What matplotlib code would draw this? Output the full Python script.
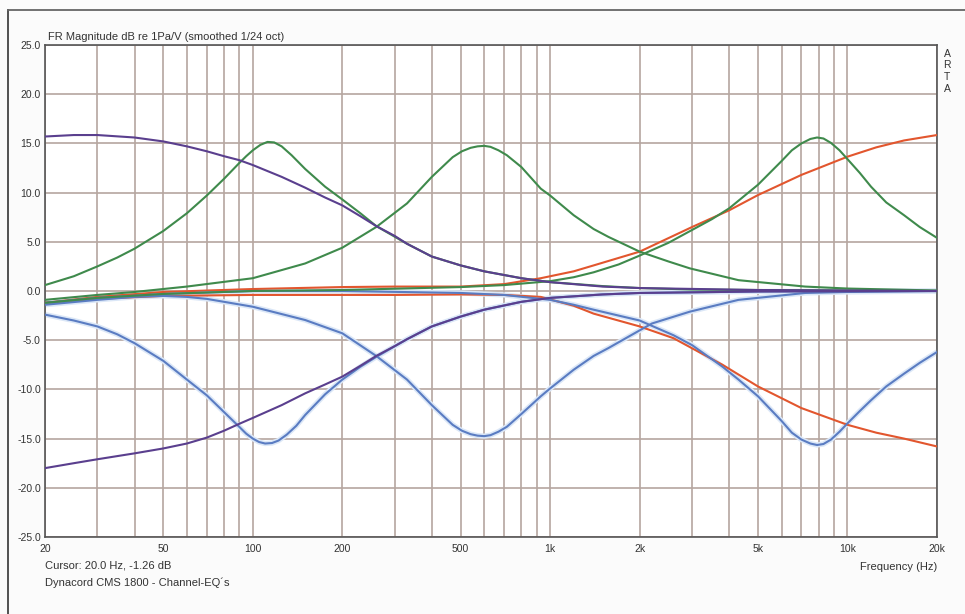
"""ARTA style frequency response plot of the Dynacord CMS 1800 channel EQ."""

import matplotlib

matplotlib.use("Agg")
import matplotlib.pyplot as plt
from matplotlib.lines import Line2D

# --- data (Hz, dB) --------------------------------------------------------
low_boost_f = [20, 25, 30, 40, 50, 60, 70, 80, 90, 100, 125, 150, 175, 200, 230, 260, 300,
               330, 400, 500, 600, 800, 1000, 1500, 2000, 5000, 20000]
low_boost_db = [15.7, 15.85, 15.85, 15.6, 15.2, 14.7, 14.2, 13.7, 13.3, 12.8, 11.6, 10.5,
                9.5, 8.7, 7.6, 6.6, 5.6, 4.8, 3.5, 2.6, 2.0, 1.3, 0.9, 0.45, 0.3, 0.1, 0.0]

low_cut_f = [20, 25, 30, 40, 50, 60, 70, 80, 90, 100, 125, 150, 175, 200, 230, 260, 300,
             330, 400, 500, 600, 800, 1000, 1500, 2000, 5000, 20000]
low_cut_db = [-18.0, -17.5, -17.1, -16.5, -16.0, -15.5, -14.9, -14.2, -13.5, -12.9, -11.6,
              -10.4, -9.5, -8.7, -7.6, -6.6, -5.6, -4.9, -3.6, -2.6, -1.9, -1.1, -0.7,
              -0.35, -0.2, -0.05, 0.0]

low_peak_f = [20, 25, 30, 35, 40, 50, 60, 70, 80, 90, 95, 100, 106, 112, 118, 125, 135,
              150, 175, 200, 230, 260, 330, 400, 500, 600, 800, 1000, 1500, 2000, 3000,
              5000, 10000, 20000]
low_peak_db = [0.6, 1.5, 2.5, 3.4, 4.3, 6.1, 7.9, 9.7, 11.4, 13.0, 13.7, 14.3, 14.85, 15.15,
               15.1, 14.7, 13.8, 12.4, 10.6, 9.3, 7.9, 6.6, 4.8, 3.5, 2.6, 2.0, 1.3, 0.9,
               0.5, 0.3, 0.15, 0.1, 0.05, 0.0]

low_dip_f = [20, 25, 30, 35, 40, 50, 60, 70, 80, 90, 95, 100, 105, 110, 116, 122, 130, 140,
             150, 175, 200, 230, 260, 330, 400, 500, 600, 800, 1000, 1500, 2000, 5000,
             20000]
low_dip_db = [-2.4, -3.0, -3.6, -4.4, -5.3, -7.1, -9.0, -10.6, -12.3, -13.8, -14.5, -15.0,
              -15.35, -15.5, -15.45, -15.2, -14.6, -13.7, -12.6, -10.5, -9.0, -7.7, -6.7,
              -4.9, -3.6, -2.6, -1.9, -1.1, -0.7, -0.35, -0.2, -0.05, 0.0]

mid_peak_f = [20, 30, 40, 60, 100, 150, 200, 260, 330, 400, 470, 505, 540, 570, 600, 630,
              670, 715, 800, 930, 1000, 1200, 1400, 1570, 2000, 2500, 2950, 4300, 7200,
              10000, 20000]
mid_peak_db = [-0.9, -0.4, -0.1, 0.45, 1.3, 2.8, 4.4, 6.5, 8.9, 11.6, 13.6, 14.2, 14.55,
               14.7, 14.75, 14.65, 14.3, 13.8, 12.6, 10.4, 9.7, 7.7, 6.3, 5.5, 4.0, 3.0,
               2.3, 1.1, 0.45, 0.25, 0.05]

mid_dip_f = [20, 30, 40, 50, 60, 70, 100, 150, 200, 260, 330, 400, 470, 505, 540, 570, 600,
             630, 670, 715, 800, 930, 1000, 1200, 1400, 1570, 2000, 2200, 2950, 4300, 7200,
             10000, 20000]
mid_dip_db = [-1.4, -0.9, -0.6, -0.5, -0.6, -0.8, -1.6, -2.95, -4.3, -6.6, -9.0, -11.6,
              -13.6, -14.2, -14.55, -14.7, -14.75, -14.65, -14.3, -13.8, -12.5, -10.7, -9.9,
              -8.0, -6.6, -5.8, -4.0, -3.3, -2.1, -0.9, -0.2, -0.1, 0.0]

high_peak_f = [20, 30, 50, 100, 200, 500, 700, 1000, 1200, 1400, 1700, 2000, 2500, 3000,
               3500, 4000, 5000, 6000, 6500, 7000, 7500, 7900, 8300, 8800, 9400, 10000,
               11000, 12000, 13500, 15500, 17500, 20000]
high_peak_db = [-1.2, -0.7, -0.3, 0.0, 0.1, 0.4, 0.6, 1.0, 1.4, 1.9, 2.7, 3.6, 4.9, 6.2,
                7.3, 8.4, 10.8, 13.2, 14.3, 15.0, 15.45, 15.6, 15.5, 15.05, 14.3, 13.4,
                12.0, 10.6, 9.0, 7.7, 6.5, 5.4]

high_dip_f = [20, 30, 50, 100, 200, 500, 700, 1000, 1200, 1400, 1700, 2000, 2600, 3000,
              3800, 4300, 5000, 6000, 6500, 7000, 7500, 7900, 8300, 8800, 9400, 10000,
              11000, 12000, 13500, 15500, 17500, 20000]
high_dip_db = [-1.2, -0.7, -0.3, 0.0, 0.0, -0.2, -0.4, -0.9, -1.4, -1.9, -2.5, -3.0, -4.5,
               -5.5, -7.7, -9.0, -10.7, -13.2, -14.4, -15.1, -15.5, -15.65, -15.55, -15.1,
               -14.3, -13.45, -12.2, -11.1, -9.7, -8.4, -7.3, -6.2]

high_boost_f = [20, 30, 50, 100, 200, 300, 500, 700, 930, 1200, 1400, 2000, 3000, 4000,
                5000, 7000, 10000, 12500, 15500, 20000]
high_boost_db = [-1.2, -0.6, -0.1, 0.2, 0.4, 0.45, 0.45, 0.7, 1.3, 2.0, 2.6, 4.0, 6.5, 8.2,
                 9.75, 11.8, 13.65, 14.6, 15.3, 15.85]

high_cut_f = [20, 30, 50, 100, 200, 300, 500, 700, 930, 1200, 1400, 2000, 2600, 3800, 5000,
              7000, 10000, 12500, 15500, 20000]
high_cut_db = [-1.2, -0.8, -0.5, -0.4, -0.4, -0.4, -0.35, -0.4, -0.6, -1.5, -2.3, -3.6,
               -4.8, -7.5, -9.7, -11.9, -13.6, -14.4, -15.0, -15.8]

grid_freqs = [20, 30, 40, 50, 60, 70, 80, 90, 100, 200, 300, 400, 500, 600, 700, 800, 900,
              1000, 2000, 3000, 4000, 5000, 6000, 7000, 8000, 9000, 10000, 20000]
x_tick_freqs = [20, 50, 100, 200, 500, 1000, 2000, 5000, 10000, 20000]
x_tick_labels = ["20", "50", "100", "200", "500", "1k", "2k", "5k", "10k", "20k"]
y_ticks = [25, 20, 15, 10, 5, 0, -5, -10, -15, -20, -25]

PURPLE = "#5a3f8e"
GREEN = "#3f8a4c"
BLUE = "#5a7cc2"
RED = "#e2562e"
GRID = "#b5a6a0"
TEXT = "#333333"

plt.rcParams["font.family"] = ["Liberation Sans", "DejaVu Sans"]
plt.rcParams["axes.unicode_minus"] = False

fig = plt.figure(figsize=(9.65, 6.14), dpi=100, facecolor="#fbfbfb")
ax = fig.add_axes([45 / 965, 1 - 537 / 614, 892 / 965, 492 / 614])
ax.set_facecolor("white")
ax.set_xscale("log")
ax.set_xlim(20, 20000)
ax.set_ylim(-25, 25)

for f in grid_freqs:
    ax.axvline(f, color=GRID, lw=1.2, zorder=1)
for v in y_ticks:
    ax.axhline(v, color=GRID, lw=1.2, zorder=1)

curves = [
    (high_boost_f, high_boost_db, RED),
    (high_cut_f, high_cut_db, RED),
    (low_dip_f, low_dip_db, BLUE),
    (mid_dip_f, mid_dip_db, BLUE),
    (high_dip_f, high_dip_db, BLUE),
    (low_peak_f, low_peak_db, GREEN),
    (mid_peak_f, mid_peak_db, GREEN),
    (high_peak_f, high_peak_db, GREEN),
    (low_boost_f, low_boost_db, PURPLE),
    (low_cut_f, low_cut_db, PURPLE),
]
for freqs, levels, color in curves:
    if color == BLUE:
        ax.plot(freqs, levels, color="#dbe7f7", lw=3.8, zorder=2, solid_joinstyle="round")
    ax.plot(freqs, levels, color=color, lw=1.5, zorder=3, solid_joinstyle="round")

ax.minorticks_off()
ax.set_xticks(x_tick_freqs)
ax.set_xticklabels(x_tick_labels)
ax.set_yticks(y_ticks)
ax.set_yticklabels([f"{v:.1f}" for v in y_ticks])
ax.tick_params(length=0, labelsize=7.5, labelcolor=TEXT, pad=3)
ax.tick_params(axis="x", pad=5)
for spine in ax.spines.values():
    spine.set_color("#555555")
    spine.set_linewidth(1.2)

fig.text(48 / 965, 1 - 37 / 614, "FR Magnitude dB re 1Pa/V (smoothed 1/24 oct)",
         fontsize=8, color=TEXT, va="center", ha="left")
fig.text(937 / 965, 1 - 567 / 614, "Frequency (Hz)", fontsize=8, color=TEXT,
         va="center", ha="right")
fig.text(45 / 965, 1 - 566 / 614, "Cursor: 20.0 Hz, -1.26 dB", fontsize=8, color=TEXT,
         va="center", ha="left")
fig.text(45 / 965, 1 - 583 / 614, "Dynacord CMS 1800 - Channel-EQ´s", fontsize=8,
         color=TEXT, va="center", ha="left")
for i, letter in enumerate("ARTA"):
    fig.text(947 / 965, 1 - (54 + 11.5 * i) / 614, letter, fontsize=7.5, color=TEXT,
             va="center", ha="center")

# outer frame of the printout (left and top edges)
fig.add_artist(Line2D([8 / 965, 8 / 965], [0, 1 - 10 / 614], color="#444444", lw=1.3))
fig.add_artist(Line2D([8 / 965, 1], [1 - 10 / 614, 1 - 10 / 614], color="#666666", lw=1.3))

fig.savefig("out.png", dpi=100, facecolor=fig.get_facecolor())
